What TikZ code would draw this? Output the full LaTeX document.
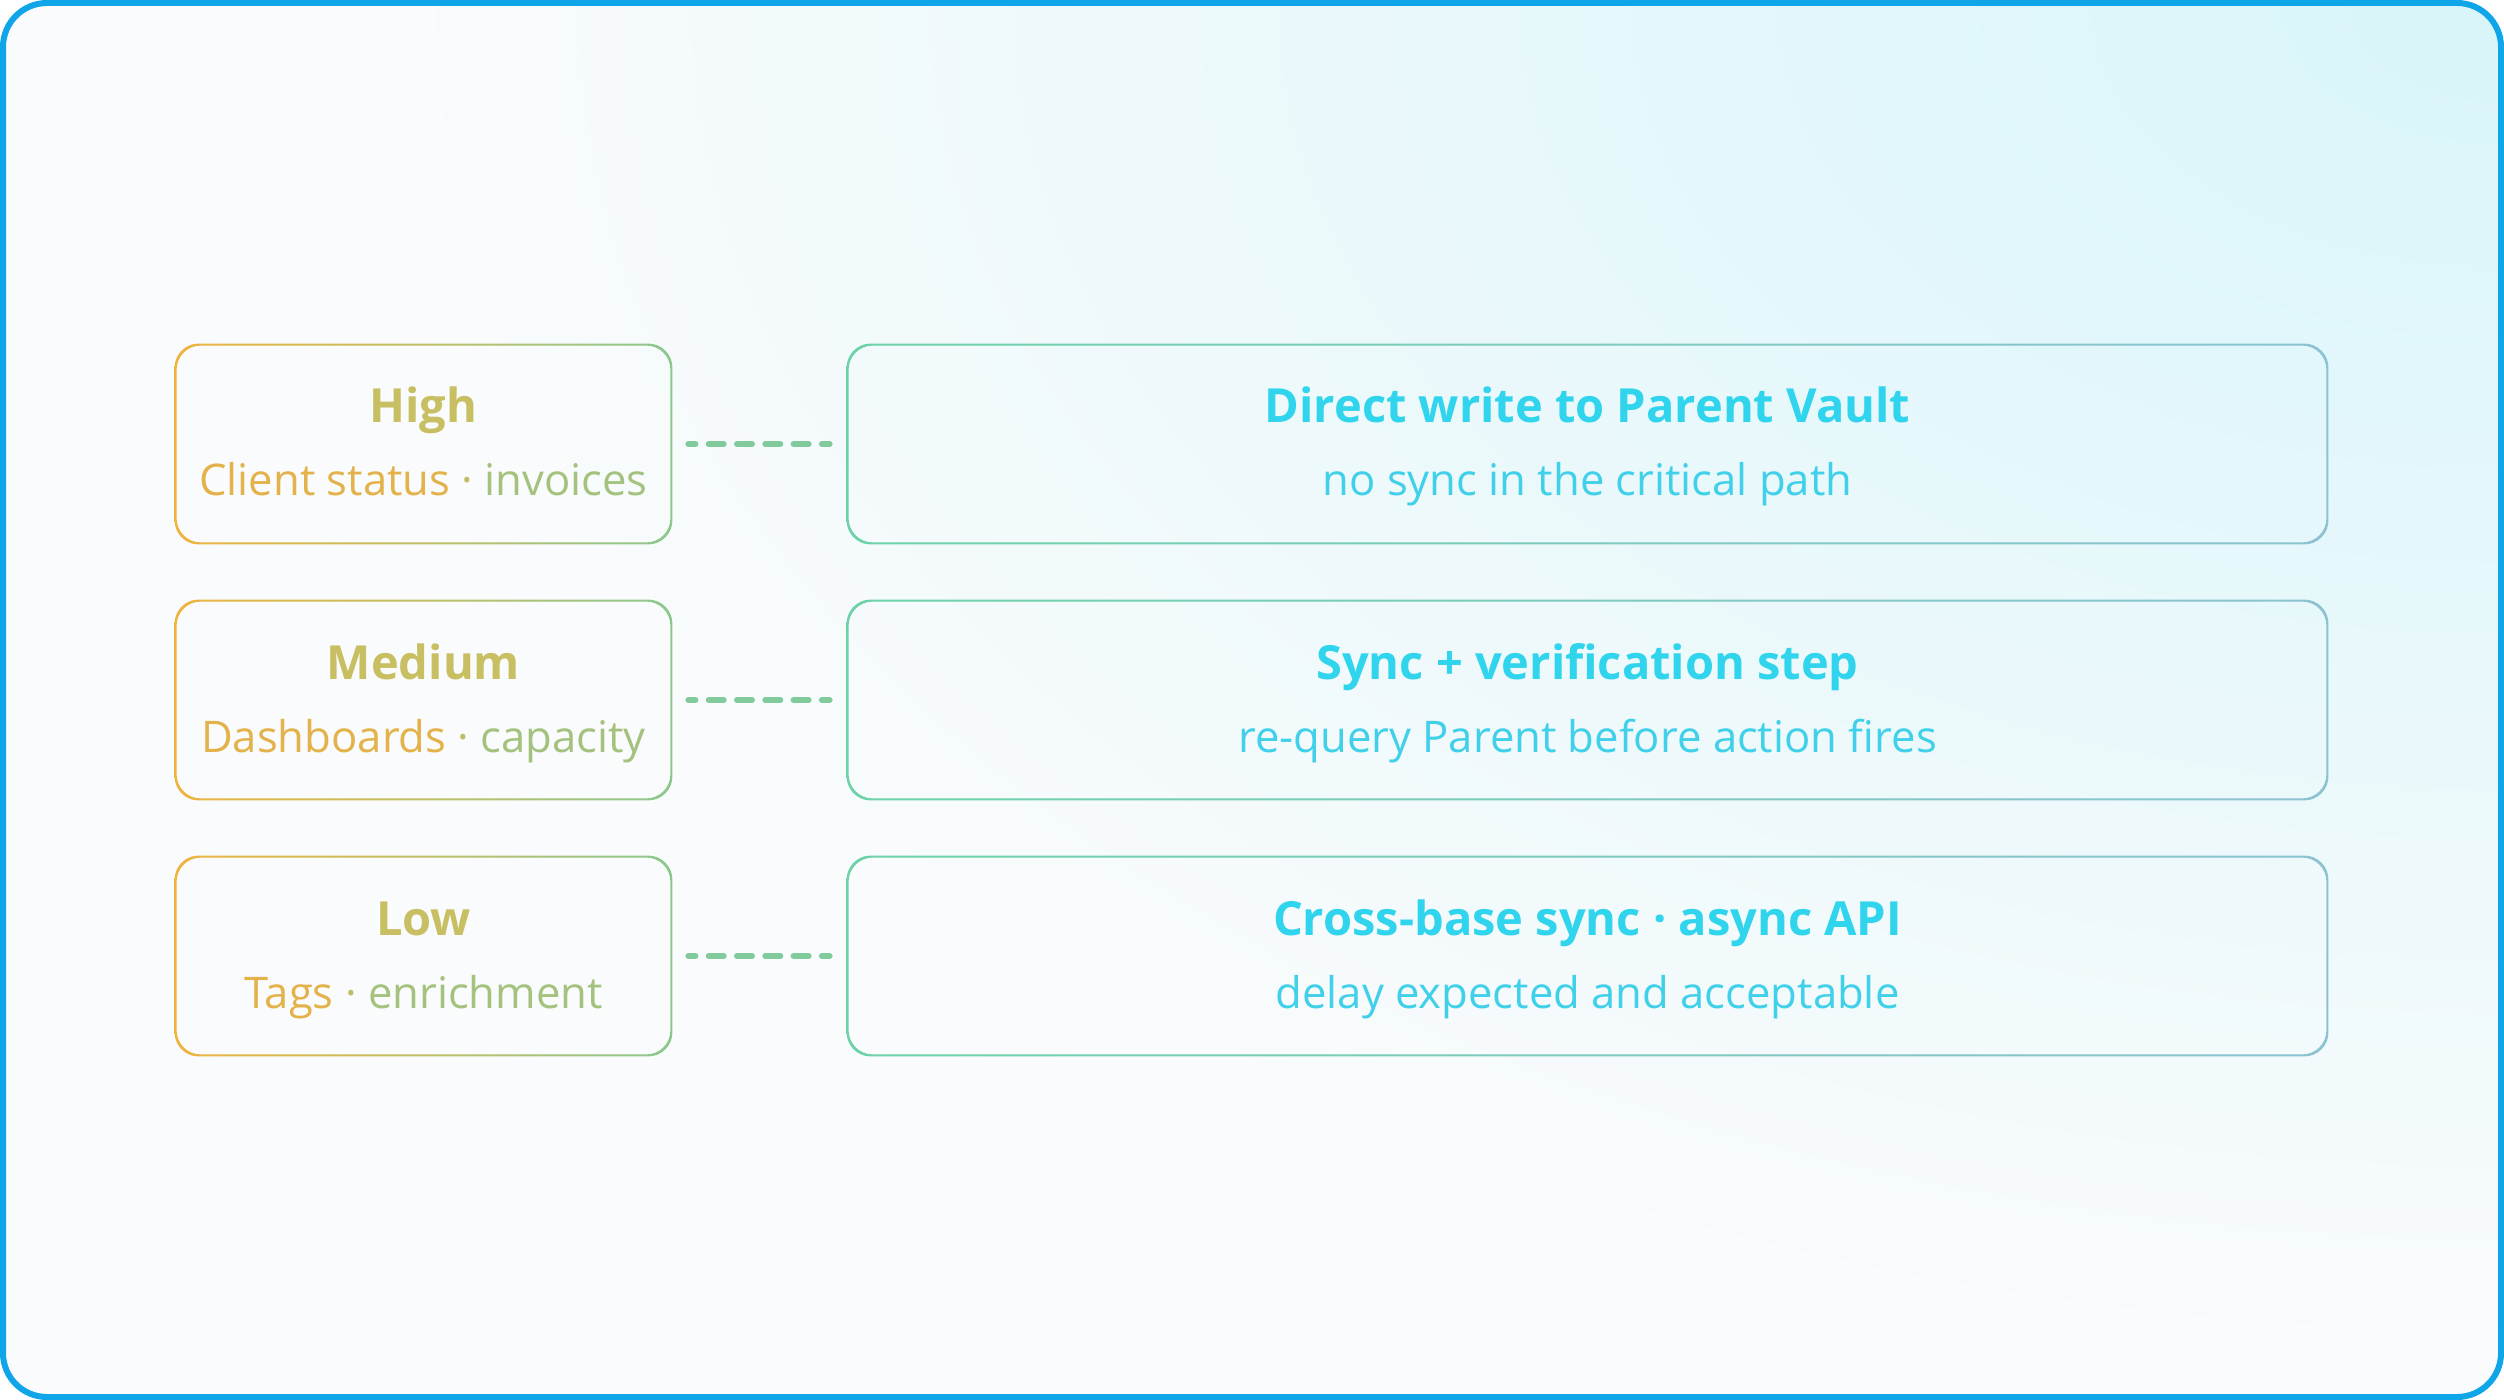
\documentclass[tikz,border=0pt]{standalone}
\usepackage{fontspec}
\setmainfont{Open Sans}
\usetikzlibrary{positioning,calc}

\definecolor{frameblue}{HTML}{0EA5E9}
\definecolor{bgwhite}{HTML}{F9FBFC}
\definecolor{bgcyan}{HTML}{D8F5FA}
\definecolor{warmA}{HTML}{F0B43C}
\definecolor{warmB}{HTML}{8CC88E}
\definecolor{warmtitle}{HTML}{C8BE62}
\definecolor{warmsubA}{HTML}{E4B24A}
\definecolor{warmsubB}{HTML}{A4C27E}
\definecolor{coolA}{HTML}{6CD2A8}
\definecolor{coolB}{HTML}{2ED5EC}
\definecolor{coolC}{HTML}{8CC2D2}
\definecolor{cooltitle}{HTML}{30D4EC}
\definecolor{coolsub}{HTML}{40D0EA}
\definecolor{linkgreen}{HTML}{80CA9C}

\tikzset{
  tierbox/.style={minimum width=247.5pt, minimum height=99pt, inner sep=0pt},
  pathbox/.style={minimum width=739.5pt, minimum height=99pt, inner sep=0pt},
  tiertitle/.style={anchor=base, font=\fontsize{23.5}{28}\selectfont\bfseries, text=warmtitle},
  tiersub/.style={anchor=base, font=\fontsize{21.8}{26}\selectfont},
  pathtitle/.style={anchor=base, font=\fontsize{23.5}{28}\selectfont\bfseries, text=cooltitle},
  pathsub/.style={anchor=base, font=\fontsize{21.8}{26}\selectfont, text=coolsub},
  link/.style={linkgreen, line width=3pt, line cap=round,
    dash pattern=on 7.5pt off 6.65pt, dash phase=4pt}
}

% gradient outline round a named box: node, left, middle, right colour
\newcommand{\ringbox}[4]{%
  \shade[left color=#2, middle color=#3, right color=#4, even odd rule, rounded corners=12pt]
    ($(#1.south west)+(-0.5pt,-0.5pt)$) rectangle ($(#1.north east)+(0.5pt,0.5pt)$)
    ($(#1.south west)+(0.5pt,0.5pt)$) rectangle ($(#1.north east)+(-0.5pt,-0.5pt)$);
}

\begin{document}
\begin{tikzpicture}[x=0.5pt, y=-0.5pt]
	\useasboundingbox (0,0) rectangle (2504,1400);
	
	% Background
	\begin{scope}
		\clip[rounded corners=24pt] (3,3) rectangle (2501,1397);
		\fill[bgwhite] (0,0) rectangle (2504,1400);
		\shade[inner color=bgcyan, outer color=bgwhite] (2504,0) ellipse (2100 and 1350);
	\end{scope}
	\draw[frameblue, line width=3pt, rounded corners=22pt] (3,3) rectangle (2501,1397);
	
	% Tier boxes
	\node[tierbox] (high) at (423.5,444) {};
	\node[tierbox] (medium) at (423.5,700) {};
	\node[tierbox] (low) at (423.5,956) {};
	\ringbox{high}{warmA}{warmA!50!warmB}{warmB}
	\ringbox{medium}{warmA}{warmA!50!warmB}{warmB}
	\ringbox{low}{warmA}{warmA!50!warmB}{warmB}
	
	% Write path boxes
	\node[pathbox] (direct) at (1587.5,444) {};
	\node[pathbox] (verify) at (1587.5,700) {};
	\node[pathbox] (async) at (1587.5,956) {};
	\ringbox{direct}{coolA}{coolB}{coolC}
	\ringbox{verify}{coolA}{coolB}{coolC}
	\ringbox{async}{coolA}{coolB}{coolC}
	
	% Tier labels
	\node[tiertitle] (hightitle) at ([yshift=10.5pt]high.center) {High};
	\node[tiersub] (highsub) at ([yshift=-26pt]high.center) {\color{warmsubA}Client status \color{warmA!50!warmB}· \color{warmsubB}invoices};
	\node[tiertitle] (mediumtitle) at ([yshift=10.5pt]medium.center) {Medium};
	\node[tiersub] (mediumsub) at ([yshift=-26pt]medium.center) {\color{warmsubA}Dashboards \color{warmA!50!warmB}· \color{warmsubB}capacity};
	\node[tiertitle] (lowtitle) at ([yshift=10.5pt]low.center) {Low};
	\node[tiersub] (lowsub) at ([yshift=-26pt]low.center) {\color{warmsubA}Tags \color{warmA!50!warmB}· \color{warmsubB}enrichment};
	
	% Path labels
	\node[pathtitle] (directtitle) at ([yshift=10.5pt]direct.center) {Direct write to Parent Vault};
	\node[pathsub] (directsub) at ([yshift=-26pt]direct.center) {no sync in the critical path};
	\node[pathtitle] (verifytitle) at ([yshift=10.5pt]verify.center) {Sync + verification step};
	\node[pathsub] (verifysub) at ([yshift=-26pt]verify.center) {re-query Parent before action fires};
	\node[pathtitle] (asynctitle) at ([yshift=10.5pt]async.center) {Cross-base sync · async API};
	\node[pathsub] (asyncsub) at ([yshift=-26pt]async.center) {delay expected and acceptable};
	
	% Links
	\draw[link] ([xshift=8.5pt]high.east) -- ([xshift=-9pt]direct.west);
	\draw[link] ([xshift=8.5pt]medium.east) -- ([xshift=-9pt]verify.west);
	\draw[link] ([xshift=8.5pt]low.east) -- ([xshift=-9pt]async.west);
\end{tikzpicture}
\end{document}
